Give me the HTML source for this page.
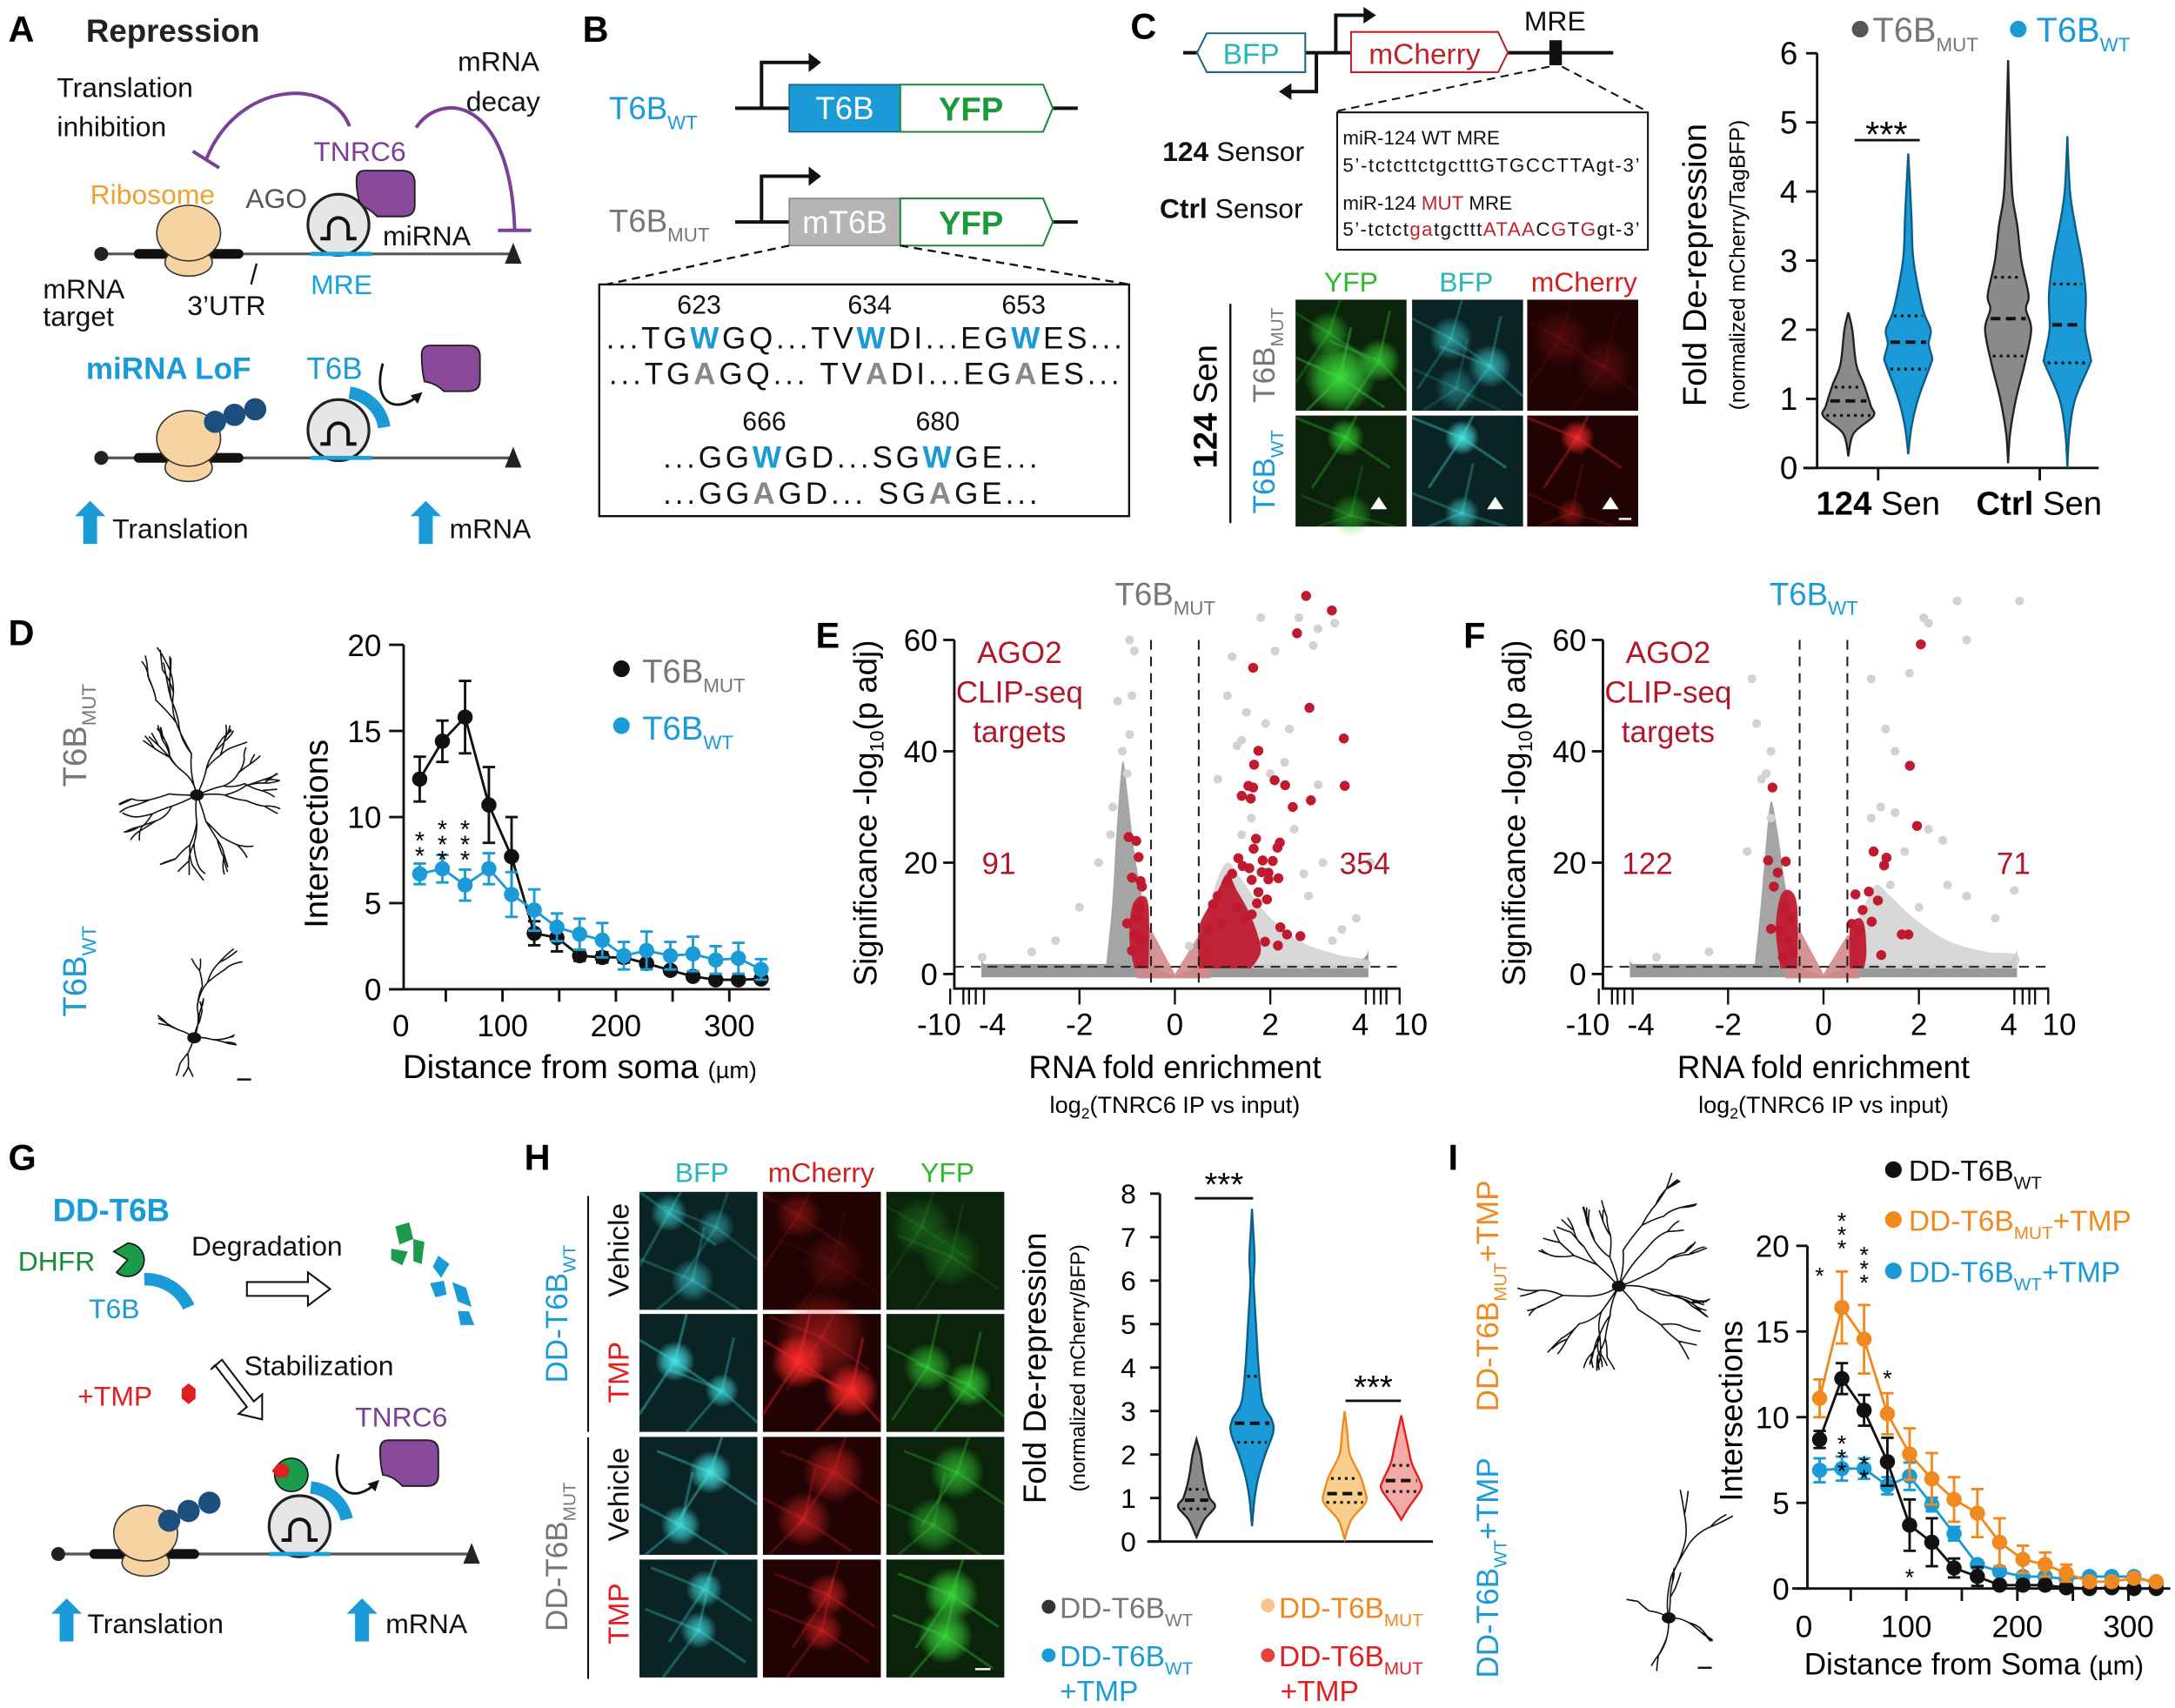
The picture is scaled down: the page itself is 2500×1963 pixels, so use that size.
<!DOCTYPE html>
<html><head><meta charset="utf-8">
<style>
html,body{margin:0;padding:0;background:#fff;}
svg{display:block;font-family:"Liberation Sans",Arial,sans-serif;}
</style></head>
<body>
<svg id="fig" xmlns="http://www.w3.org/2000/svg" width="2500" height="1963" viewBox="0 0 1568 1231" preserveAspectRatio="none">
<defs>
<marker id="ah" markerWidth="8" markerHeight="8" refX="6" refY="4" orient="auto" markerUnits="userSpaceOnUse"><path d="M0,0 L8,4 L0,8 z" fill="#111"/></marker>
</defs>
<rect x="0" y="0" width="1568" height="1231" fill="#fff"/>

<!-- ============ PANEL A ============ -->
<g>
<text x="6" y="30" font-size="26" font-weight="bold">A</text>
<text x="62" y="30" font-size="23" font-weight="bold" fill="#222">Repression</text>
<text x="41" y="70" font-size="20" fill="#111">Translation</text>
<text x="41" y="98" font-size="20" fill="#111">inhibition</text>
<text x="330" y="51" font-size="20" fill="#111">mRNA</text>
<text x="336" y="80" font-size="20" fill="#111">decay</text>
<path d="M252,91 C238,55 172,58 149,114" fill="none" stroke="#7b3f98" stroke-width="2.5"/>
<line x1="139" y1="109" x2="158" y2="121" stroke="#7b3f98" stroke-width="2.5"/>
<path d="M300,92 C318,65 368,70 371,165" fill="none" stroke="#7b3f98" stroke-width="2.5"/>
<line x1="359" y1="166" x2="383" y2="166" stroke="#7b3f98" stroke-width="2.5"/>
<text x="226" y="116" font-size="20" fill="#7b3f98">TNRC6</text>
<path d="M263,123 H290 Q299,123 299,132 V148 Q299,156 290,156 H272 Q266,150 260,148 Q257,140 257,130 Q257,123 263,123 z" fill="#8a4a9c" stroke="#222" stroke-width="1.2"/>
<text x="65" y="147" font-size="20" fill="#f0a030">Ribosome</text>
<text x="177" y="150" font-size="20" fill="#555">AGO</text>
<line x1="73" y1="183" x2="370" y2="183" stroke="#555" stroke-width="2"/>
<circle cx="73" cy="183" r="5" fill="#222"/>
<line x1="100" y1="183" x2="172" y2="183" stroke="#111" stroke-width="7" stroke-linecap="round"/>
<ellipse cx="136" cy="189" rx="17" ry="10" fill="#f7d3a1" stroke="#333" stroke-width="1"/>
<ellipse cx="136" cy="168" rx="23" ry="20" fill="#f7d3a1" stroke="#333" stroke-width="1"/>
<path d="M364,190 L370,175 L376,190 z" fill="#222"/>
<circle cx="244" cy="162" r="22" fill="#e6e6e6" stroke="#222" stroke-width="2"/>
<path d="M231,172 h6 v-8 a7,7 0 0 1 14,0 v8 h6" fill="none" stroke="#111" stroke-width="2.5"/>
<line x1="224" y1="183" x2="268" y2="183" stroke="#1aa0dc" stroke-width="3"/>
<text x="276" y="177" font-size="20" fill="#111">miRNA</text>
<text x="31" y="215" font-size="20" fill="#111">mRNA</text>
<text x="31" y="235" font-size="20" fill="#111">target</text>
<line x1="185" y1="190" x2="181" y2="205" stroke="#111" stroke-width="1.5"/>
<text x="135" y="227" font-size="20" fill="#111">3’UTR</text>
<text x="224" y="212" font-size="20" fill="#1aa0dc">MRE</text>
<text x="62" y="273" font-size="22" font-weight="bold" fill="#1a9bd7">miRNA LoF</text>
<text x="221" y="273" font-size="22" fill="#1a9bd7">T6B</text>
<path d="M276,262 C268,290 285,300 303,284" fill="none" stroke="#111" stroke-width="1.8" marker-end="url(#ah)"/>
<path d="M310,249 H338 Q346,249 346,257 V274 Q346,282 338,282 H320 Q314,276 306,275 Q304,266 304,256 Q304,249 310,249 z" fill="#8a4a9c" stroke="#222" stroke-width="1.2"/>
<line x1="73" y1="330" x2="370" y2="330" stroke="#555" stroke-width="2"/>
<circle cx="73" cy="330" r="5" fill="#222"/>
<line x1="100" y1="330" x2="172" y2="330" stroke="#111" stroke-width="7" stroke-linecap="round"/>
<ellipse cx="136" cy="337" rx="17" ry="10" fill="#f7d3a1" stroke="#333" stroke-width="1"/>
<ellipse cx="136" cy="316" rx="23" ry="20" fill="#f7d3a1" stroke="#333" stroke-width="1"/>
<circle cx="155" cy="304" r="8" fill="#1d4e7e"/>
<circle cx="169" cy="299" r="8" fill="#1d4e7e"/>
<circle cx="184" cy="295" r="8" fill="#1d4e7e"/>
<path d="M364,337 L370,322 L376,337 z" fill="#222"/>
<circle cx="244" cy="310" r="22" fill="#e6e6e6" stroke="#222" stroke-width="2"/>
<path d="M231,320 h6 v-8 a7,7 0 0 1 14,0 v8 h6" fill="none" stroke="#111" stroke-width="2.5"/>
<path d="M252,283 A30,30 0 0 1 277,308" fill="none" stroke="#1a9bd7" stroke-width="9"/>
<line x1="224" y1="330" x2="268" y2="330" stroke="#1aa0dc" stroke-width="3"/>
<path d="M60,392 V372 H54 L65,361 L76,372 H70 V392 z" fill="#1a9bd7"/>
<text x="81" y="388" font-size="20" fill="#111">Translation</text>
<path d="M302,392 V372 H296 L307,361 L318,372 H312 V392 z" fill="#1a9bd7"/>
<text x="324" y="388" font-size="20" fill="#111">mRNA</text>
</g>

<!-- ============ PANEL B ============ -->
<g>
<text x="420" y="30" font-size="26" font-weight="bold">B</text>
<text x="439" y="86" font-size="23" fill="#1a9bd7">T6B<tspan font-size="14" dy="7">WT</tspan></text>
<line x1="530" y1="78" x2="777" y2="78" stroke="#111" stroke-width="2.5"/>
<path d="M549,78 V45 H584" fill="none" stroke="#111" stroke-width="2.5"/>
<path d="M583,38 L592,45 L583,52 z" fill="#111"/>
<rect x="569" y="61" width="80" height="34" fill="#1a9bd7" stroke="#145e86" stroke-width="1"/>
<text x="609" y="86" font-size="23" fill="#fff" text-anchor="middle">T6B</text>
<path d="M649,61 H752 L759,78 L752,95 H649 z" fill="#fff" stroke="#1a8a3a" stroke-width="1.3"/>
<text x="700" y="87" font-size="24" font-weight="bold" fill="#1a9a3a" text-anchor="middle">YFP</text>
<text x="439" y="167" font-size="23" fill="#777">T6B<tspan font-size="14" dy="7">MUT</tspan></text>
<line x1="530" y1="160" x2="777" y2="160" stroke="#111" stroke-width="2.5"/>
<path d="M549,160 V127 H584" fill="none" stroke="#111" stroke-width="2.5"/>
<path d="M583,120 L592,127 L583,134 z" fill="#111"/>
<rect x="569" y="143" width="80" height="34" fill="#b5b5b5" stroke="#888" stroke-width="1"/>
<text x="609" y="168" font-size="23" fill="#fff" text-anchor="middle">mT6B</text>
<path d="M649,143 H752 L759,160 L752,177 H649 z" fill="#fff" stroke="#1a8a3a" stroke-width="1.3"/>
<text x="700" y="169" font-size="24" font-weight="bold" fill="#1a9a3a" text-anchor="middle">YFP</text>
<line x1="569" y1="177" x2="437" y2="205" stroke="#111" stroke-width="1.5" stroke-dasharray="6,4"/>
<line x1="649" y1="177" x2="814" y2="205" stroke="#111" stroke-width="1.5" stroke-dasharray="6,4"/>
<rect x="432" y="205" width="382" height="167" fill="#fff" stroke="#111" stroke-width="1.5"/>
<g font-size="22" fill="#111">
<text x="504" y="226" text-anchor="middle" font-size="19">623</text>
<text x="627" y="226" text-anchor="middle" font-size="19">634</text>
<text x="738" y="226" text-anchor="middle" font-size="19">653</text>
<text x="623" y="251" text-anchor="middle" textLength="372">...TG<tspan fill="#1a9bd7" font-weight="bold">W</tspan>GQ...TV<tspan fill="#1a9bd7" font-weight="bold">W</tspan>DI...EG<tspan fill="#1a9bd7" font-weight="bold">W</tspan>ES...</text>
<text x="623" y="277" text-anchor="middle" textLength="368">...TG<tspan fill="#888" font-weight="bold">A</tspan>GQ... TV<tspan fill="#888" font-weight="bold">A</tspan>DI...EG<tspan fill="#888" font-weight="bold">A</tspan>ES...</text>
<text x="551" y="310" text-anchor="middle" font-size="19">666</text>
<text x="676" y="310" text-anchor="middle" font-size="19">680</text>
<text x="613" y="337" text-anchor="middle" textLength="270">...GG<tspan fill="#1a9bd7" font-weight="bold">W</tspan>GD...SG<tspan fill="#1a9bd7" font-weight="bold">W</tspan>GE...</text>
<text x="613" y="363" text-anchor="middle" textLength="270">...GG<tspan fill="#888" font-weight="bold">A</tspan>GD... SG<tspan fill="#888" font-weight="bold">A</tspan>GE...</text>
</g>
</g>

<!-- ============ PANEL C schematic ============ -->
<g>
<text x="815" y="28" font-size="26" font-weight="bold">C</text>
<line x1="853" y1="38" x2="1163" y2="38" stroke="#111" stroke-width="2.5"/>
<path d="M870,24 H941 V52 H870 L863,38 z" fill="#fff" stroke="#1a6a80" stroke-width="1.3"/>
<text x="902" y="46" font-size="21" fill="#2bb5b5" text-anchor="middle">BFP</text>
<path d="M974,23 H1080 L1087,38 L1080,52 H974 z" fill="#fff" stroke="#c0222a" stroke-width="1.3"/>
<text x="1027" y="46" font-size="21" fill="#c0222a" text-anchor="middle">mCherry</text>
<path d="M963,38 V11 H984" fill="none" stroke="#111" stroke-width="2.5"/>
<path d="M983,5 L992,11 L983,17 z" fill="#111"/>
<path d="M949,38 V66 H930" fill="none" stroke="#111" stroke-width="2.5"/>
<path d="M931,60 L922,66 L931,72 z" fill="#111"/>
<rect x="1117" y="29" width="9" height="18" fill="#111"/>
<text x="1121" y="22" font-size="20" fill="#111" text-anchor="middle">MRE</text>
<line x1="1117" y1="48" x2="964" y2="80" stroke="#111" stroke-width="1.3" stroke-dasharray="6,4"/>
<line x1="1126" y1="48" x2="1187" y2="80" stroke="#111" stroke-width="1.3" stroke-dasharray="6,4"/>
<rect x="964" y="81" width="224" height="99" fill="#fff" stroke="#111" stroke-width="1.3"/>
<g font-size="14" fill="#111">
<text x="968" y="104">miR-124 WT MRE</text>
<text x="968" y="124" textLength="214">5’-tctcttctgctttGTGCCTTAgt-3’</text>
<text x="968" y="151">miR-124 <tspan fill="#c0222a">MUT</tspan> MRE</text>
<text x="968" y="170" textLength="214">5’-tctct<tspan fill="#c0222a">ga</tspan>tgcttt<tspan fill="#c0222a">ATAA</tspan>C<tspan fill="#c0222a">G</tspan>T<tspan fill="#c0222a">G</tspan>gt-3’</text>
</g>
<text x="838" y="116" font-size="20" fill="#111"><tspan font-weight="bold">124</tspan> Sensor</text>
<text x="836" y="157" font-size="20" fill="#111"><tspan font-weight="bold">Ctrl</tspan> Sensor</text>
<text x="974" y="210" font-size="20" fill="#2bbb2b" text-anchor="middle">YFP</text>
<text x="1057" y="210" font-size="20" fill="#2bb5b5" text-anchor="middle">BFP</text>
<text x="1142" y="210" font-size="20" fill="#d02020" text-anchor="middle">mCherry</text>
<line x1="887" y1="219" x2="887" y2="377" stroke="#111" stroke-width="1.5"/>
<text transform="translate(877,293) rotate(-90)" font-size="24" text-anchor="middle"><tspan font-weight="bold">124</tspan> Sen</text>
<text transform="translate(919,256) rotate(-90)" font-size="22" fill="#777" text-anchor="middle">T6B<tspan font-size="13" dy="6">MUT</tspan></text>
<text transform="translate(919,340) rotate(-90)" font-size="22" fill="#1a9bd7" text-anchor="middle">T6B<tspan font-size="13" dy="6">WT</tspan></text>
<g id="cImgs"></g>
</g>

<!-- ============ PANEL C violin ============ -->
<g id="cChart">
<text transform="translate(1230,191) rotate(-90)" font-size="24" text-anchor="middle">Fold De-repression</text>
<text transform="translate(1258,191) rotate(-90)" font-size="15.5" text-anchor="middle">(normalized mCherry/TagBFP)</text>
<circle cx="1341" cy="21" r="6" fill="#555"/>
<text x="1350" y="30" font-size="25" fill="#777">T6B<tspan font-size="14" dy="7">MUT</tspan></text>
<circle cx="1455" cy="21" r="6" fill="#1a9bd7"/>
<text x="1468" y="30" font-size="25" fill="#1a9bd7">T6B<tspan font-size="14" dy="7">WT</tspan></text>
</g>

<!-- ============ PANEL D ============ -->
<g>
<text x="6" y="465" font-size="26" font-weight="bold">D</text>
<text transform="translate(62,530) rotate(-90)" font-size="24" fill="#777" text-anchor="middle">T6B<tspan font-size="14" dy="7">MUT</tspan></text>
<text transform="translate(62,700) rotate(-90)" font-size="24" fill="#1a9bd7" text-anchor="middle">T6B<tspan font-size="14" dy="7">WT</tspan></text>
<line x1="171" y1="778" x2="181" y2="778" stroke="#111" stroke-width="1.5"/>
<g id="dChart">
<text transform="translate(236,601) rotate(-90)" font-size="24" text-anchor="middle">Intersections</text>
<text x="418" y="777" font-size="24" text-anchor="middle">Distance from soma <tspan font-size="17">(µm)</tspan></text>
<circle cx="448" cy="482" r="6" fill="#111"/>
<text x="463" y="492" font-size="24" fill="#777">T6B<tspan font-size="14" dy="7">MUT</tspan></text>
<circle cx="448" cy="523" r="6" fill="#1a9bd7"/>
<text x="463" y="533" font-size="24" fill="#1a9bd7">T6B<tspan font-size="14" dy="7">WT</tspan></text>
</g>
</g>

<!-- ============ PANEL E / F ============ -->
<text x="588" y="467" font-size="26" font-weight="bold">E</text>
<text x="1055" y="467" font-size="26" font-weight="bold">F</text>
<g id="eChart"></g>
<g id="fChart"></g>

<!-- ============ PANEL G ============ -->
<g>
<text x="6" y="843" font-size="26" font-weight="bold">G</text>
<text x="38" y="880" font-size="23" font-weight="bold" fill="#1a9bd7">DD-T6B</text>
<text x="13" y="916" font-size="20" fill="#1a8a3a">DHFR</text>
<path d="M92,896 A12,12 0 1 1 84,917 L92,908 L82,902 z" fill="#1a9a4a" stroke="#111" stroke-width="1"/>
<path d="M104,922 A34,34 0 0 1 136,942" fill="none" stroke="#1a9bd7" stroke-width="9"/>
<text x="64" y="950" font-size="20" fill="#1a9bd7">T6B</text>
<text x="138" y="905" font-size="20" fill="#111">Degradation</text>
<path d="M178,924 H222 V917 L238,929 L222,941 V934 H178 z" fill="#fff" stroke="#111" stroke-width="1.3"/>
<path d="M285,884 l10,-3 l3,12 l-10,4 z M298,893 l8,2 l-2,16 l-6,-2 z M282,900 l12,2 l-4,10 l-8,-4 z" fill="#1a9a4a"/>
<path d="M316,905 l8,6 l-6,10 l-6,-8 z M310,925 l10,-2 l2,10 l-8,2 z M326,924 l10,4 l4,14 l-10,-4 z M330,945 l8,0 l4,10 l-10,0 z" fill="#1a9bd7"/>
<text x="176" y="991" font-size="20" fill="#111">Stabilization</text>
<text x="56" y="1013" font-size="20" fill="#e02020">+TMP</text>
<path d="M131,1001 l5,-4 l5,4 v7 l-5,4 l-5,-4 z" fill="#e02020"/>
<path d="M152,987 L160,980 L183,1010 L189,1005 L189,1023 L172,1019 L178,1014 L155,984 z" fill="#fff" stroke="#111" stroke-width="1.3"/>
<text x="256" y="1028" font-size="20" fill="#7b3f98">TNRC6</text>
<path d="M280,1038 H308 Q316,1038 316,1046 V1063 Q316,1071 308,1071 H290 Q284,1064 276,1063 Q274,1055 274,1045 Q274,1038 280,1038 z" fill="#8a4a9c" stroke="#222" stroke-width="1.2"/>
<path d="M244,1048 C238,1075 255,1085 272,1068" fill="none" stroke="#111" stroke-width="1.8" marker-end="url(#ah)"/>
<line x1="42" y1="1120" x2="337" y2="1120" stroke="#555" stroke-width="2"/>
<circle cx="42" cy="1120" r="5" fill="#222"/>
<line x1="68" y1="1120" x2="140" y2="1120" stroke="#111" stroke-width="7" stroke-linecap="round"/>
<ellipse cx="105" cy="1126" rx="17" ry="10" fill="#f7d3a1" stroke="#333" stroke-width="1"/>
<ellipse cx="105" cy="1105" rx="23" ry="20" fill="#f7d3a1" stroke="#333" stroke-width="1"/>
<circle cx="122" cy="1096" r="8" fill="#1d4e7e"/>
<circle cx="136" cy="1089" r="8" fill="#1d4e7e"/>
<circle cx="151" cy="1083" r="8" fill="#1d4e7e"/>
<path d="M334,1127 L340,1112 L346,1127 z" fill="#222"/>
<circle cx="216" cy="1100" r="22" fill="#e6e6e6" stroke="#222" stroke-width="2"/>
<path d="M203,1110 h6 v-8 a7,7 0 0 1 14,0 v8 h6" fill="none" stroke="#111" stroke-width="2.5"/>
<line x1="194" y1="1120" x2="238" y2="1120" stroke="#1aa0dc" stroke-width="3"/>
<path d="M224,1072 A30,30 0 0 1 250,1095" fill="none" stroke="#1a9bd7" stroke-width="9"/>
<circle cx="210" cy="1063" r="12" fill="#1a9a4a" stroke="#111" stroke-width="1"/>
<path d="M196,1060 l4,-5 h6 l3,5 l-3,5 h-6 z" fill="#e02020"/>
<path d="M43,1183 V1163 H37 L48,1152 L59,1163 H53 V1183 z" fill="#1a9bd7"/>
<text x="63" y="1177" font-size="20" fill="#111">Translation</text>
<path d="M256,1183 V1163 H250 L261,1152 L272,1163 H266 V1183 z" fill="#1a9bd7"/>
<text x="278" y="1177" font-size="20" fill="#111">mRNA</text>
</g>

<!-- ============ PANEL H ============ -->
<g>
<text x="378" y="843" font-size="26" font-weight="bold">H</text>
<text x="506" y="852" font-size="20" fill="#2bb5b5" text-anchor="middle">BFP</text>
<text x="592" y="852" font-size="20" fill="#d02020" text-anchor="middle">mCherry</text>
<text x="683" y="852" font-size="20" fill="#2bbb2b" text-anchor="middle">YFP</text>
<line x1="424" y1="862" x2="424" y2="1032" stroke="#111" stroke-width="1.3"/>
<line x1="424" y1="1036" x2="424" y2="1210" stroke="#111" stroke-width="1.3"/>
<text transform="translate(409,947) rotate(-90)" font-size="22" fill="#1a9bd7" text-anchor="middle">DD-T6B<tspan font-size="13" dy="6">WT</tspan></text>
<text transform="translate(409,1122) rotate(-90)" font-size="22" fill="#777" text-anchor="middle">DD-T6B<tspan font-size="13" dy="6">MUT</tspan></text>
<text transform="translate(453,901) rotate(-90)" font-size="21" fill="#111" text-anchor="middle">Vehicle</text>
<text transform="translate(453,989) rotate(-90)" font-size="21" fill="#e02020" text-anchor="middle">TMP</text>
<text transform="translate(453,1077) rotate(-90)" font-size="21" fill="#111" text-anchor="middle">Vehicle</text>
<text transform="translate(453,1163) rotate(-90)" font-size="21" fill="#e02020" text-anchor="middle">TMP</text>
<g id="hImgs"></g>
</g>
<g id="hChart">
<text transform="translate(754,986) rotate(-90)" font-size="23" text-anchor="middle">Fold De-repression</text>
<text transform="translate(782,986) rotate(-90)" font-size="15" text-anchor="middle">(normalized mCherry/BFP)</text>
<circle cx="756" cy="1158" r="5" fill="#333"/>
<text x="764" y="1166" font-size="21" fill="#777">DD-T6B<tspan font-size="13" dy="6">WT</tspan></text>
<circle cx="756" cy="1193" r="5" fill="#1a9bd7"/>
<text x="764" y="1201" font-size="21" fill="#1a9bd7">DD-T6B<tspan font-size="13" dy="6">WT</tspan></text>
<text x="764" y="1226" font-size="21" fill="#1a9bd7">+TMP</text>
<circle cx="914" cy="1157" r="5" fill="#f7c58a"/>
<text x="922" y="1166" font-size="21" fill="#f08a20">DD-T6B<tspan font-size="13" dy="6">MUT</tspan></text>
<circle cx="914" cy="1193" r="5" fill="#e8403a"/>
<text x="922" y="1201" font-size="21" fill="#e02020">DD-T6B<tspan font-size="13" dy="6">MUT</tspan></text>
<text x="923" y="1226" font-size="21" fill="#e02020">+TMP</text>
</g>

<!-- ============ PANEL I ============ -->
<g>
<text x="1044" y="843" font-size="26" font-weight="bold">I</text>
<text transform="translate(1080,934) rotate(-90)" font-size="22" fill="#f08a20" text-anchor="middle">DD-T6B<tspan font-size="13" dy="6">MUT</tspan><tspan dy="-6">+TMP</tspan></text>
<text transform="translate(1080,1130) rotate(-90)" font-size="22" fill="#1a9bd7" text-anchor="middle">DD-T6B<tspan font-size="13" dy="6">WT</tspan><tspan dy="-6">+TMP</tspan></text>
<line x1="1224" y1="1202" x2="1234" y2="1202" stroke="#111" stroke-width="1.5"/>
<g id="iChart">
<text transform="translate(1256,1017) rotate(-90)" font-size="23" text-anchor="middle">Intersections</text>
<text x="1423" y="1207" font-size="22" text-anchor="middle">Distance from Soma <tspan font-size="19">(µm)</tspan></text>
<circle cx="1365" cy="843" r="6" fill="#111"/>
<text x="1376" y="851" font-size="21" fill="#111">DD-T6B<tspan font-size="13" dy="6">WT</tspan></text>
<circle cx="1365" cy="879" r="6" fill="#f08a20"/>
<text x="1376" y="887" font-size="21" fill="#f08a20">DD-T6B<tspan font-size="13" dy="6">MUT</tspan><tspan dy="-6">+TMP</tspan></text>
<circle cx="1365" cy="916" r="6" fill="#1a9bd7"/>
<text x="1376" y="924" font-size="21" fill="#1a9bd7">DD-T6B<tspan font-size="13" dy="6">WT</tspan><tspan dy="-6">+TMP</tspan></text>
</g>
</g>
<g id="neurons"></g>
</svg>

<script>
// ======== DATA: Panel C violins (value grid + relative density) ========
const cGroups = ["124 Sen MUT","124 Sen WT","Ctrl Sen MUT","Ctrl Sen WT"];
const cVals0 = [0.17,0.5,0.75,0.9,1.2,1.5,2.0,2.25];
const cDens0 = [0,4,19,17,12,6,3,0];
const cVals1 = [0.2,0.6,1.0,1.5,1.6,1.8,2.0,2.3,3.0,3.6,4.0,4.55];
const cDens1 = [0,2.5,7.5,17,18,15.5,17,11,4,2.5,1.5,0];
const cVals2 = [0.07,0.5,1.0,1.5,2.0,2.3,2.5,3.0,3.5,4.0,5.0,5.9];
const cDens2 = [0,1.5,6,12.5,17.5,13.5,15.5,10,7,3,1.2,0];
const cVals3 = [0,0.5,1.0,1.5,1.6,2.0,2.5,3.0,3.5,4.0,4.8];
const cDens3 = [0,1.5,6,17,17.5,13.5,14,11,6,2,0];
const cMedian = [0.97,1.82,2.16,2.07];
const cQ1 = [0.76,1.43,1.62,1.52];
const cQ3 = [1.17,2.20,2.76,2.66];
const cTicks = [0,1,2,3,4,5,6];

// ======== DATA: Panel D Sholl ========
const dDist = [27,47,67,88,108,128,148,168,188,207,227,248,268,288,308,328];
const dMut = [12.2,14.4,15.8,10.7,7.7,3.25,3.0,1.95,1.85,1.85,1.5,1.1,0.75,0.55,0.55,0.6];
const dMutErr = [1.3,1.2,2.1,2.2,2.3,0.7,0.8,0.3,0.3,0.3,0.2,0.2,0.15,0.1,0.1,0.1];
const dWt = [6.7,7.0,6.05,7.0,5.5,4.6,3.6,3.2,2.85,1.95,2.25,1.95,2.05,1.7,1.8,1.15];
const dWtErr = [0.6,0.8,0.9,0.9,1.3,1.2,0.8,0.9,1.0,0.8,1.1,0.8,1.0,0.8,0.9,0.6];
const dYTicks = [0,5,10,15,20];
const dXTicks = [0,100,200,300];

// ======== DATA: Panel E volcano (T6B MUT) ========
const eRedX = [2.75,3.29,2.56,1.64,2.82,3.54,1.75,1.66,3.56,2.09,2.31,1.54,1.64,1.40,1.59,2.85,2.47,1.7,2.2,1.65,2.15,1.33,1.84,2.05,1.42,1.56,1.82,1.96,2.17,1.61,1.96,1.75,1.93,1.72,1.61,2.21,2.35,2.63,1.89,2.16,-0.97,-0.81,-0.76,-0.9,-0.72,-0.69,-1.0,-0.9,1.2,1.1,0.9,1.3,0.8,1.0,1.45,0.7,-0.75,-0.8,-0.7,-0.85];
const eRedY = [67.9,65.3,61.2,55,47.8,42.3,40.1,37.6,33.8,34.8,33.9,33.8,33.5,32,31.5,31.2,30,24.3,23.6,22.5,22.7,20.8,20.4,20.3,19.4,19,18.3,18.2,17.2,16.9,17,14.7,13.4,12.7,10.7,8.4,7.1,6.8,5.8,5.1,24.6,23.9,21,17.3,16.7,15.7,9.1,4.2,18,16.5,14,12,12.5,9,10,8,12,10,6,7];
const eGrayX = [1.2,2.1,2.9,3.0,3.35,1.8,2.6,1.5,1.4,1.9,2.4,2.3,2.0,3.0,1.6,1.4,2.5,3.1,2.8,3.5,3.3,4.5,-0.95,-0.85,-0.9,-0.95,-1.2,-1.1,-1.0,-1.3,-1.35,-1.6,-2.0,-2.5,-3.0,-4.2,0.3,1.1,1.3,0.9,2.7,3.8];
const eGrayY = [57,58,59,62,63,64,64,47,42,45,44,38,36,34,28,25,26,20,14,8,6,20,60,58,50,43,49,40,36,30,25,20,12,6,4,3,5,50,41,35,18,10];
const eDarkArm = [[-1.45,1],[-1.32,12],[-1.22,26],[-1.1,38],[-1.0,33],[-0.85,22],[-0.65,12],[-0.52,8],[-0.52,1]];
const eLightArm = [[0.5,1],[0.6,8],[0.85,16],[1.1,20],[1.4,17],[1.9,11],[2.6,6],[3.4,3.5],[4.3,2.5],[4.3,1]];
const eRedClusterR = [[0.5,1],[0.5,8],[0.7,12],[0.9,15],[1.1,18],[1.3,15],[1.5,12],[1.7,8],[1.8,4],[1.6,1]];
const eRedClusterL = [[-0.55,1],[-0.55,12],[-0.7,14],[-0.9,12],[-0.95,6],[-0.85,1]];
const eCountL = "91", eCountR = "354";

// ======== DATA: Panel F volcano (T6B WT) ========
const fRedX = [2.04,1.81,-1.07,1.96,1.05,-1.16,-0.79,1.32,1.27,-0.96,-1.04,0.67,0.95,0.82,1.14,1.01,1.64,1.78,-1.1,1.21,0.59,0.75,-0.8,-0.7,-0.9,-0.75,-0.65,-0.85];
const fRedY = [59.2,37.4,33.5,26.6,22,20.4,20.2,20.9,19.5,18.2,15.7,14.3,14.8,11.5,13.2,9.4,7.1,7.1,8.1,3.4,9,7.7,12,10,8,6,4,3];
const fGrayX = [2.2,2.1,2.8,3.0,4.6,1.0,1.5,1.3,1.8,-1.5,-1.4,-1.1,-1.2,-1.3,1.2,1.5,2.2,2.5,1.0,1.7,-1.1,-1.6,2.6,3.0,4.0,3.6,2.0,1.4,-3.5,-2.4];
const fGrayY = [63,64,67,60,67,53,40,44,54,53,45,40,36,35,30,29,26,24,28,22,28,22,16,14,15,10,12,16,3,4];
const fDarkArm = [[-1.45,1],[-1.32,12],[-1.2,24],[-1.1,31],[-0.97,26],[-0.8,16],[-0.62,9],[-0.52,7],[-0.52,1]];
const fLightArm = [[0.5,1],[0.6,7],[0.85,12],[1.1,16],[1.4,14],[1.9,10],[2.6,6],[3.4,4],[4.3,3.5],[4.3,1]];
const fRedClusterR = [[0.55,1],[0.55,8],[0.7,10],[0.85,9],[0.9,4],[0.85,1]];
const fRedClusterL = [[-0.55,1],[-0.55,12],[-0.7,15],[-0.9,14],[-1.0,8],[-0.9,1]];
const fCountL = "122", fCountR = "71";
const vYTicks = [0,20,40,60];
const vXLabels = [-10,-4,-2,0,2,4,10];
const vXMinor = [-7,-6,-5,5,6,7];

// ======== DATA: Panel H violins ========
const hVals0 = [0.1,0.5,0.8,1.0,1.3,1.6,2.0,2.35];
const hDens0 = [0,6,14,10,7,5,3,0];
const hVals1 = [0.35,1.0,1.5,2.0,2.5,2.8,3.2,4.0,5.0,5.5,6.0,6.5,7.0,7.65];
const hDens1 = [0,2,5,10,16,15,8,5,3,2,1.2,2,1.2,0];
const hVals2 = [0.05,0.5,0.9,1.2,1.5,2.0,2.5,3.0];
const hDens2 = [0,5,16,15,12,4,2,0];
const hVals3 = [0.5,0.8,1.2,1.4,1.8,2.2,2.9];
const hDens3 = [0,6,15,14,8,5,0];
const hMedian = [0.95,2.72,1.1,1.4];
const hQ1 = [0.75,2.28,0.9,1.15];
const hQ3 = [1.2,3.8,1.45,1.75];
const hTicks = [0,1,2,3,4,5,6,7,8];

// ======== DATA: Panel I Sholl ========
const iDist = [22,42,62,83,103,123,143,164,184,205,225,244,265,285,305,325];
const iWt = [8.7,12.25,10.4,7.4,3.7,2.7,1.2,0.7,0.2,0.2,0.2,0.05,0,0.05,0,0];
const iWtErr = [0.5,0.9,0.9,1.4,1.5,1.4,0.55,0.55,0.1,0.1,0.1,0.1,0.05,0.05,0.05,0.05];
const iMutTmp = [11.1,16.4,14.55,10.2,7.85,6.4,5.2,4.4,2.7,1.7,1.4,0.9,0.4,0.4,0.6,0.4];
const iMutTmpErr = [1.1,2.1,2.0,1.2,1.5,1.5,1.3,1.4,1.4,0.8,0.7,0.5,0.2,0.1,0.1,0.1];
const iWtTmp = [6.9,7.0,7.0,6.0,6.55,4.9,3.2,1.4,1.0,0.7,0.7,0.55,0.7,0.7,0.7,0.3];
const iWtTmpErr = [0.7,0.7,0.6,0.5,0.8,0.4,0.4,0.2,0.2,0.2,0.2,0.2,0.2,0.2,0.2,0.1];
const iYTicks = [0,5,10,15,20];
const iXTicks = [0,100,200,300];

const NS = "http://www.w3.org/2000/svg";
function mk(tag, attrs, parent) {
  const e = document.createElementNS(NS, tag);
  for (const k in attrs) e.setAttribute(k, attrs[k]);
  parent.appendChild(e);
  return e;
}
function txt(str, attrs, parent) { const t = mk('text', attrs, parent); t.textContent = str; return t; }

function smoothPath(pts) {
  let d = "M" + pts[0][0] + "," + pts[0][1];
  for (let i = 0; i < pts.length - 1; i++) {
    const p0 = pts[Math.max(0, i - 1)], p1 = pts[i], p2 = pts[i + 1], p3 = pts[Math.min(pts.length - 1, i + 2)];
    const c1 = [p1[0] + (p2[0] - p0[0]) / 6, p1[1] + (p2[1] - p0[1]) / 6];
    const c2 = [p2[0] - (p3[0] - p1[0]) / 6, p2[1] - (p3[1] - p1[1]) / 6];
    d += " C" + c1[0] + "," + c1[1] + " " + c2[0] + "," + c2[1] + " " + p2[0] + "," + p2[1];
  }
  return d;
}
function interp(vals, dens, v) {
  for (let i = 0; i < vals.length - 1; i++) if (v >= vals[i] && v <= vals[i + 1]) {
    const t = (v - vals[i]) / (vals[i + 1] - vals[i]); return dens[i] + t * (dens[i + 1] - dens[i]);
  }
  return 0;
}
function violin(g, cx, vals, dens, sc, yF, fill, stroke, med, q1, q3, name) {
  const right = vals.map((v, i) => [cx + dens[i] * sc, yF(v)]);
  const left = vals.map((v, i) => [cx - dens[i] * sc, yF(v)]).reverse();
  const d = smoothPath(right) + " L" + smoothPath(left).slice(1) + " Z";
  const p = mk('path', { d: d, fill: fill, stroke: stroke, 'stroke-width': 1.5 }, g);
  
  
  [[med, "7,4", 2.5], [q1, "2,3", 2], [q3, "2,3", 2]].forEach(([v, da, w]) => {
    const hw = interp(vals, dens, v) * sc - 2;
    const l = mk('line', { x1: cx - hw, x2: cx + hw, y1: yF(v), y2: yF(v), stroke: '#111', 'stroke-width': w, 'stroke-dasharray': da }, g);
    
    
  });
}

// ---------- Panel C violin chart ----------
(function () {
  const g = document.getElementById('cChart');
  const yC = v => 337.3 - v * 49.82;
  const spineX = 1310;
  const ax = mk('path', { d: `M${spineX},${yC(6)} V${yC(0)} M1300,${yC(0)} H1513 M1354,${yC(0)} v9 M1470.5,${yC(0)} v9`, stroke: '#111', 'stroke-width': 1.8, fill: 'none' }, g);
  
  
  cTicks.forEach(t => {
    const l = mk('line', { x1: spineX - 8, x2: spineX, y1: yC(t), y2: yC(t), stroke: '#111', 'stroke-width': 1.8 }, g);
    
    
    const lb = txt(String(t), { x: spineX - 14, y: yC(t) + 8, 'font-size': 23, 'text-anchor': 'end' }, g);
    
    
  });
  const xs = [1332.5, 1375.7, 1447.7, 1490.4];
  const vv = [cVals0, cVals1, cVals2, cVals3], dd = [cDens0, cDens1, cDens2, cDens3];
  const fills = ['#8a8a8a', '#1a9bd7', '#8a8a8a', '#1a9bd7'];
  const strokes = ['#222', '#0d5e86', '#222', '#0d5e86'];
  for (let i = 0; i < 4; i++) violin(g, xs[i], vv[i], dd[i], 0.95, yC, fills[i], strokes[i], cMedian[i], cQ1[i], cQ3[i], 'c-violin-' + i);
  const b = mk('line', { x1: 1337, x2: 1384, y1: 101, y2: 101, stroke: '#111', 'stroke-width': 1.8 }, g);
  
  
  const s = txt('***', { x: 1360, y: 106, 'font-size': 26, 'text-anchor': 'middle' }, g);
  
  
  const l1 = txt('', { x: 1354, y: 371, 'font-size': 24, 'text-anchor': 'middle' }, g);
  l1.innerHTML = '<tspan font-weight="bold">124</tspan> Sen';
  
  
  const l2 = txt('', { x: 1470, y: 371, 'font-size': 24, 'text-anchor': 'middle' }, g);
  l2.innerHTML = '<tspan font-weight="bold">Ctrl</tspan> Sen';
  
  
})();

// ---------- Sholl plot helper ----------
function sholl(g, xF, yF, dist, series, errs, colors, names, r) {
  series.forEach((vals, si) => {
    const pl = mk('polyline', { points: vals.map((v, i) => xF(dist[i]) + ',' + yF(v)).join(' '), fill: 'none', stroke: colors[si], 'stroke-width': 1.8 }, g);
    
    
    vals.forEach((v, i) => {
      const x = xF(dist[i]);
      const e = mk('path', { d: `M${x},${yF(v + errs[si][i])} V${yF(v - errs[si][i])} M${x - 4.5},${yF(v + errs[si][i])} h9 M${x - 4.5},${yF(v - errs[si][i])} h9`, stroke: colors[si], 'stroke-width': 1.8, fill: 'none' }, g);
      
      
      const c = mk('circle', { cx: x, cy: yF(v), r: r, fill: colors[si] }, g);
      
      
    });
  });
}

// ---------- Panel D ----------
(function () {
  const g = document.getElementById('dChart');
  const xD = v => 280.5 + 0.8176 * v;
  const yD = v => 713 - v * 12.415;
  const ax = mk('path', { d: `M291,${yD(20)} V${yD(0)} M280.5,${yD(0)} H555`, stroke: '#111', 'stroke-width': 1.8, fill: 'none' }, g);
  
  
  dYTicks.forEach(t => {
    const l = mk('line', { x1: 280.5, x2: 291, y1: yD(t), y2: yD(t), stroke: '#111', 'stroke-width': 1.8 }, g);
    
    
    const lb = txt(String(t), { x: 275, y: yD(t) + 8, 'font-size': 22, 'text-anchor': 'end' }, g);
    
    
  });
  [50, 100, 150, 200, 250, 300].forEach(t => {
    const l = mk('line', { x1: xD(t), x2: xD(t), y1: yD(0), y2: yD(0) + 9, stroke: '#111', 'stroke-width': 1.8 }, g);
    
    
  });
  dXTicks.forEach(t => {
    const lb = txt(String(t), { x: t === 0 ? 289 : xD(t), y: 747, 'font-size': 22, 'text-anchor': 'middle' }, g);
    
    
  });
  sholl(g, xD, yD, dDist, [dMut, dWt], [dMutErr, dWtErr], ['#111', '#1a9bd7'], ['d-mut', 'd-wt'], 5.5);
  [[0, 2], [1, 3], [2, 3]].forEach(([i, n]) => {
    for (let k = 0; k < n; k++) {
      const s = txt('*', { x: xD(dDist[i]), y: (n === 2 ? 604 : 596) + k * 11 + 8, 'font-size': 18, 'text-anchor': 'middle' }, g);
      
      
    }
  });
})();

// ---------- Volcano plots ----------
function volcano(id, x0, title, titleColor, subT, redX, redY, grayX, grayY, darkArm, lightArm, redR, redL, cntL, cntR) {
  const g = document.getElementById(id);
  const sx = v => { const a = Math.abs(v); const s = Math.sign(v); return a <= 4 ? s * a * 34.4 : s * (137.6 + Math.log(a / 4) / Math.log(2.5) * 24.4); };
  const xF = v => x0 + sx(v);
  const yF = v => 702 - v * 4.013;
  const L = x0 - 159, R = x0 + 162.6;
  const poly = (pts, fill, name, op) => {
    const p = mk('path', { d: smoothPath(pts.map(q => [xF(q[0]), yF(q[1])])) + ' Z', fill: fill, opacity: op }, g);
    
    
  };
  const band = mk('path', { d: `M${xF(-4.3)},${yF(-0.6)} H${xF(4.3)} V${yF(4.5)} Q${xF(4.2)},${yF(1)} ${xF(3)},${yF(1.8)} H${xF(0.6)} L${xF(0)},${yF(-0.4)} L${xF(-0.6)},${yF(1.8)} H${xF(-4)} Q${xF(-4.3)},${yF(2)} ${xF(-4.3)},${yF(3)} Z`, fill: '#999' }, g);
  
  
  poly(lightArm, '#d4d4d4', 'enriched-gene-cloud', 0.9);
  poly(darkArm, '#a0a0a0', 'depleted-gene-cloud', 0.95);
  const v = mk('path', { d: `M${xF(-0.8)},${yF(12)} L${xF(-0.5)},${yF(8)} L${xF(0)},${yF(0)} L${xF(0.5)},${yF(7)} L${xF(0.75)},${yF(6)} L${xF(0.75)},${yF(-0.8)} L${xF(-0.8)},${yF(-0.8)} Z`, fill: '#d28a8a', opacity: 0.9 }, g);
  
  
  poly(redR, '#c01a30', 'enriched-target-cluster', 0.95);
  poly(redL, '#c01a30', 'depleted-target-cluster', 0.95);
  grayX.forEach((x, i) => {
    const c = mk('circle', { cx: xF(x), cy: yF(grayY[i]), r: 3.2, fill: '#d2d2d2' }, g);
    
    
  });
  redX.forEach((x, i) => {
    const c = mk('circle', { cx: xF(x), cy: yF(redY[i]), r: 3.6, fill: '#c01a30' }, g);
    
    
  });
  const th = mk('path', { d: `M${xF(-0.5)},${yF(60)} V710 M${xF(0.5)},${yF(60)} V710 M${L},${yF(1.3)} H${R}`, stroke: '#222', 'stroke-width': 1.3, 'stroke-dasharray': '7,5', fill: 'none' }, g);
  
  
  const ax = mk('path', { d: `M${L},${yF(60)} V712.5 H${R}`, stroke: '#111', 'stroke-width': 1.8, fill: 'none' }, g);
  
  
  vYTicks.forEach(t => {
    const l = mk('line', { x1: L - 8, x2: L, y1: yF(t), y2: yF(t), stroke: '#111', 'stroke-width': 1.8 }, g);
    
    
    const lb = txt(String(t), { x: L - 12, y: yF(t) + 8, 'font-size': 22, 'text-anchor': 'end' }, g);
    
    
  });
  vXLabels.concat(vXMinor).forEach(t => {
    const l = mk('line', { x1: xF(t), x2: xF(t), y1: 712.5, y2: 724, stroke: '#111', 'stroke-width': 1.5 }, g);
    
    
  });
  vXLabels.forEach(t => {
    let x = xF(t); if (t === -10) x -= 8; if (t === -4) x += 6; if (t === 4) x -= 4; if (t === 10) x += 8;
    const lb = txt(String(t), { x: x, y: 746, 'font-size': 22, 'text-anchor': 'middle' }, g);
    
    
  });
  const t1 = txt('', { x: x0 - 7, y: 436, 'font-size': 23, fill: titleColor, 'text-anchor': 'middle' }, g);
  t1.innerHTML = 'T6B<tspan font-size="14" dy="7">' + subT + '</tspan>';
  
  
  ['AGO2', 'CLIP-seq', 'targets'].forEach((s, k) => {
    const a = txt(s, { x: L + 47, y: 478 + k * 28.5, 'font-size': 22, fill: '#b0182a', 'text-anchor': 'middle' }, g);
    
    
  });
  const cl = txt(cntL, { x: L + 32, y: 630, 'font-size': 22, fill: '#b0182a', 'text-anchor': 'middle' }, g);
  
  
  const cr = txt(cntR, { x: x0 + 137, y: 630, 'font-size': 22, fill: '#b0182a', 'text-anchor': 'middle' }, g);
  
  
  const yt = txt('', { transform: `translate(${L - 56},586) rotate(-90)`, 'font-size': 23, 'text-anchor': 'middle' }, g);
  yt.innerHTML = 'Significance -log<tspan font-size="14" dy="5">10</tspan><tspan dy="-5">(p adj)</tspan>';
  
  
  const xt = txt('RNA fold enrichment', { x: x0, y: 777, 'font-size': 23, 'text-anchor': 'middle' }, g);
  
  
  const xs = txt('', { x: x0, y: 802, 'font-size': 17, 'text-anchor': 'middle' }, g);
  xs.innerHTML = 'log<tspan font-size="11" dy="4">2</tspan><tspan dy="-4">(TNRC6 IP vs input)</tspan>';
  
  
}
volcano('eChart', 847, 'T6B', '#777', 'MUT', eRedX, eRedY, eGrayX, eGrayY, eDarkArm, eLightArm, eRedClusterR, eRedClusterL, eCountL, eCountR);
volcano('fChart', 1314.6, 'T6B', '#1a9bd7', 'WT', fRedX, fRedY, fGrayX, fGrayY, fDarkArm, fLightArm, fRedClusterR, fRedClusterL, fCountL, fCountR);

// ---------- Panel H violin ----------
(function () {
  const g = document.getElementById('hChart');
  const yH = v => 1111 - v * 31.34;
  const spineX = 836.2;
  const ax = mk('path', { d: `M${spineX},${yH(8)} V${yH(0)} M827,${yH(0)} H1033`, stroke: '#111', 'stroke-width': 1.8, fill: 'none' }, g);
  
  
  hTicks.forEach(t => {
    const l = mk('line', { x1: spineX - 7, x2: spineX, y1: yH(t), y2: yH(t), stroke: '#111', 'stroke-width': 1.8 }, g);
    
    
    const lb = txt(String(t), { x: 819, y: yH(t) + 7, 'font-size': 20, 'text-anchor': 'end' }, g);
    
    
  });
  const xs = [862.6, 902.6, 969.4, 1010.2];
  const vv = [hVals0, hVals1, hVals2, hVals3], dd = [hDens0, hDens1, hDens2, hDens3];
  const fills = ['#8a8a8a', '#1a9bd7', '#f9cf8e', '#f6aaa6'];
  const strokes = ['#222', '#0d5e86', '#f08a20', '#e02020'];
  for (let i = 0; i < 4; i++) violin(g, xs[i], vv[i], dd[i], 0.95, yH, fills[i], strokes[i], hMedian[i], hQ1[i], hQ3[i], 'h-violin-' + i);
  [[861.4, 903.4, 863.6], [970, 1010, 1009.6]].forEach(([a, b, y]) => {
    const l = mk('line', { x1: a, x2: b, y1: y, y2: y, stroke: '#111', 'stroke-width': 1.8 }, g);
    
    
    const s = txt('***', { x: (a + b) / 2, y: y - 2, 'font-size': 24, 'text-anchor': 'middle' }, g);
    
    
  });
})();

// ---------- Panel I ----------
(function () {
  const g = document.getElementById('iChart');
  const xI = v => 1294.2 + 0.8008 * v;
  const yI = v => 1144.9 - v * 12.35;
  const ax = mk('path', { d: `M1303,${yI(20)} V${yI(0)} M1292,${yI(0)} H1564.6`, stroke: '#111', 'stroke-width': 1.8, fill: 'none' }, g);
  
  
  iYTicks.forEach(t => {
    const l = mk('line', { x1: 1295, x2: 1303, y1: yI(t), y2: yI(t), stroke: '#111', 'stroke-width': 1.8 }, g);
    
    
    const lb = txt(String(t), { x: 1290, y: yI(t) + 8, 'font-size': 22, 'text-anchor': 'end' }, g);
    
    
  });
  [50, 100, 150, 200, 250, 300].forEach(t => {
    const l = mk('line', { x1: xI(t), x2: xI(t), y1: yI(0), y2: yI(0) + 9, stroke: '#111', 'stroke-width': 1.8 }, g);
    
    
  });
  iXTicks.forEach(t => {
    const lb = txt(String(t), { x: t === 0 ? 1300.5 : xI(t), y: 1180, 'font-size': 22, 'text-anchor': 'middle' }, g);
    
    
  });
  sholl(g, xI, yI, iDist, [iWtTmp, iWt, iMutTmp], [iWtTmpErr, iWtErr, iMutTmpErr], ['#1a9bd7', '#111', '#f08a20'], ['i-wt-tmp', 'i-wt', 'i-mut-tmp'], 5.5);
  const stars = [[0, 18.6, 1], [1, 21.8, 3], [2, 19.8, 3], [3, 12.6, 1], [1, 8.8, 3], [2, 7.6, 2], [4, 1.0, 1]];
  stars.forEach(([i, top, n]) => {
    for (let k = 0; k < n; k++) {
      const s = txt('*', { x: xI(iDist[i]), y: yI(top) + k * 10 + 10, 'font-size': 17, 'text-anchor': 'middle' }, g);
      
      
    }
  });
})();

// ---------- Micrographs (decorative images) ----------
const defs = document.querySelector('defs');
const chan = { g: ['#3be03b', '#0a230a'], b: ['#45e6e6', '#0a2426'], r: ['#ff2a2a', '#220303'] };
Object.keys(chan).forEach(k => {
  const rg = mk('radialGradient', { id: 'cell-' + k }, defs);
  mk('stop', { offset: '0%', 'stop-color': chan[k][0], 'stop-opacity': 1 }, rg);
  mk('stop', { offset: '60%', 'stop-color': chan[k][0], 'stop-opacity': 0.55 }, rg);
  mk('stop', { offset: '100%', 'stop-color': chan[k][0], 'stop-opacity': 0 }, rg);
});
function micro(parent, x, y, w, h, ch, cells, name) {
  const gg = mk('g', {}, parent);
  
  
  mk('rect', { x: x, y: y, width: w, height: h, fill: chan[ch][1] }, gg);
  cells.forEach(c => {
    const cx = x + c[0] * w, cy = y + c[1] * h;
    [[-0.6, 1], [0.8, 0.6], [0.2, -1], [-0.9, -0.4]].forEach(d => {
      mk('line', { x1: cx, y1: cy, x2: Math.min(x + w, Math.max(x, cx + d[0] * w * 0.5)), y2: Math.min(y + h, Math.max(y, cy + d[1] * h * 0.45)), stroke: chan[ch][0], 'stroke-width': 2, opacity: c[3] * 0.35 }, gg);
    });
    mk('ellipse', { cx: cx, cy: cy, rx: c[2] * w * 1.3, ry: c[2] * h * 1.3, fill: 'url(#cell-' + ch + ')', opacity: c[3] }, gg);
  });
}
(function () {
  const g = document.getElementById('cImgs');
  const cols = [[934, 'g'], [1018, 'b'], [1101, 'r']];
  const rows = [216, 299.5];
  const cells = [
    [[[0.3, 0.3, 0.15, 0.6], [0.75, 0.55, 0.15, 0.8], [0.4, 0.7, 0.25, 1]], [[0.35, 0.35, 0.15, 0.6], [0.7, 0.6, 0.15, 0.7], [0.4, 0.8, 0.15, 0.4]], [[0.3, 0.35, 0.2, 0.2], [0.7, 0.6, 0.2, 0.2]]],
    [[[0.45, 0.2, 0.13, 0.8], [0.5, 0.9, 0.15, 0.5]], [[0.45, 0.2, 0.12, 1], [0.45, 0.88, 0.12, 0.7]], [[0.45, 0.2, 0.12, 0.9], [0.4, 0.88, 0.1, 0.4]]]
  ];
  rows.forEach((ry, ri) => cols.forEach(([cx, ch], ci) => micro(g, cx, ry, 80, 80, ch, cells[ri][ci], 'c-micrograph')));
  cols.forEach(([cx]) => {
    const a = mk('path', { d: `M${cx + 54},${367} l6,-9 l6,9 z`, fill: '#fff' }, g);
    
    
  });
  const sb = mk('line', { x1: 1167, x2: 1176, y1: 374, y2: 374, stroke: '#fff', 'stroke-width': 1.5 }, g);
  
  
})();
(function () {
  const g = document.getElementById('hImgs');
  const cols = [[461, 'b'], [550, 'r'], [639, 'g']];
  const rows = [859, 947, 1035.6, 1124];
  const cells = [
    [[[0.25, 0.18, 0.12, 0.7], [0.65, 0.3, 0.12, 0.5], [0.45, 0.75, 0.14, 0.6]], [[0.3, 0.2, 0.15, 0.35], [0.6, 0.6, 0.2, 0.2]], [[0.3, 0.3, 0.2, 0.3], [0.55, 0.55, 0.2, 0.3]]],
    [[[0.3, 0.4, 0.13, 1], [0.7, 0.65, 0.11, 0.8]], [[0.3, 0.4, 0.18, 1], [0.75, 0.65, 0.18, 1], [0.5, 0.2, 0.3, 0.5]], [[0.35, 0.45, 0.16, 0.7], [0.7, 0.6, 0.15, 0.8]]],
    [[[0.6, 0.3, 0.14, 1], [0.35, 0.75, 0.13, 0.9]], [[0.6, 0.3, 0.2, 0.6], [0.35, 0.7, 0.18, 0.6]], [[0.6, 0.3, 0.18, 0.7], [0.4, 0.75, 0.18, 0.6]]],
    [[[0.55, 0.25, 0.12, 0.8], [0.5, 0.6, 0.12, 0.8]], [[0.55, 0.3, 0.14, 0.6], [0.5, 0.6, 0.14, 0.6]], [[0.55, 0.3, 0.18, 0.9], [0.5, 0.65, 0.18, 0.9]]]
  ];
  rows.forEach((ry, ri) => cols.forEach(([cx, ch], ci) => micro(g, cx, ry, 85, 85, ch, cells[ri][ci], 'h-micrograph')));
  const sb = mk('line', { x1: 703, x2: 714, y1: 1203, y2: 1203, stroke: '#fff', 'stroke-width': 1.5 }, g);
  
  
})();

// ---------- Neuron tracings (decorative) ----------
(function () {
  const g = document.getElementById('neurons');
  let seed = 7;
  const rnd = () => { seed = (seed * 16807) % 2147483647; return seed / 2147483647; };
  function branch(x, y, ang, len, depth, w, d) {
    const x2 = x + Math.cos(ang) * len, y2 = y + Math.sin(ang) * len;
    const mx = (x + x2) / 2 + (rnd() - 0.5) * len * 0.3, my = (y + y2) / 2 + (rnd() - 0.5) * len * 0.3;
    d.push(`M${x.toFixed(1)},${y.toFixed(1)} Q${mx.toFixed(1)},${my.toFixed(1)} ${x2.toFixed(1)},${y2.toFixed(1)}`);
    if (depth > 0) {
      const n = rnd() < 0.75 ? 2 : 1;
      for (let i = 0; i < n; i++) branch(x2, y2, ang + (rnd() - 0.5) * 1.1, len * (0.7 + rnd() * 0.2), depth - 1, w, d);
    }
  }
  function neuron(cx, cy, nDend, len, depth, apical, apLen, name) {
    const d = [];
    for (let i = 0; i < nDend; i++) branch(cx, cy, Math.PI * 2 * i / nDend + rnd() * 0.5, len, depth, 1, d);
    if (apical) branch(cx, cy, -Math.PI / 2 + (rnd() - 0.5) * 0.3, apLen, depth + 1, 1, d);
    const p = mk('path', { d: d.join(' '), fill: 'none', stroke: '#111', 'stroke-width': 1, 'stroke-linecap': 'round' }, g);
    
    
    const s = mk('ellipse', { cx: cx, cy: cy, rx: 5, ry: 4, fill: '#111' }, g);
    
    
  }
  neuron(142, 573, 8, 20, 3, true, 30, 'd-mut-neuron');
  neuron(140, 748, 4, 12, 2, true, 22, 'd-wt-neuron');
  neuron(1167, 927, 9, 22, 3, true, 26, 'i-mut-tmp-neuron');
  neuron(1203, 1166, 4, 15, 2, true, 30, 'i-wt-tmp-neuron');
})();
</script>
</body></html>
